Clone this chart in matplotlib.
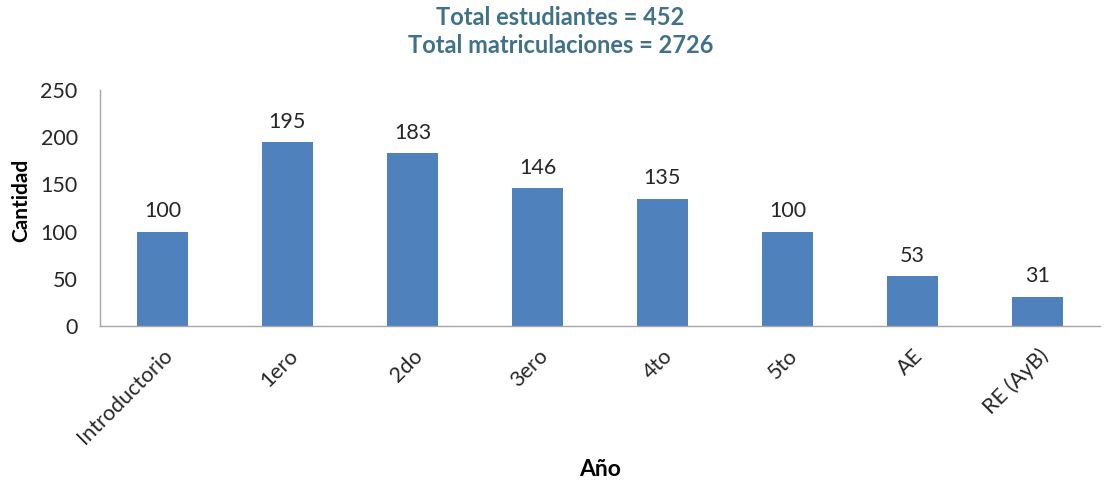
import matplotlib
matplotlib.use("Agg")
import matplotlib.pyplot as plt
import matplotlib.transforms as mtransforms

categories = ["Introductorio", "1ero", "2do", "3ero", "4to", "5to", "AE", "RE (AyB)"]
values = [100, 195, 183, 146, 135, 100, 53, 31]
yticks = [0, 50, 100, 150, 200, 250]

plt.rcParams['font.family'] = ['Lato', 'DejaVu Sans']

fig = plt.figure(figsize=(11.12, 4.9), dpi=100)
ax = fig.add_axes([0.0899, 0.3347, 0.8993, 0.4816])

x = list(range(len(categories)))
bars = ax.bar(x, values, width=0.41, color="#4F81BD", zorder=2)
for xi, v in zip(x, values):
    ax.text(xi, v + 11, str(v), ha="center", va="bottom", fontsize=15.5, color="#262626")

ax.set_xlim(-0.5, len(categories) - 0.5)
ax.set_ylim(0, 250)
ax.set_yticks(yticks)
ax.set_yticklabels([str(t) for t in yticks], fontsize=15.5, color="#262626")
ax.set_xticks(x)
ax.set_xticklabels(categories, rotation=45, ha="right", rotation_mode="anchor",
                   fontsize=15.5, color="#262626")
offset = mtransforms.ScaledTranslation(8 / 100, 0, fig.dpi_scale_trans)
for lbl in ax.get_xticklabels():
    lbl.set_transform(lbl.get_transform() + offset)
ax.tick_params(axis="both", length=0)
ax.tick_params(axis="y", pad=16)
ax.tick_params(axis="x", pad=14)
for s in ["top", "right"]:
    ax.spines[s].set_visible(False)
for s in ["left", "bottom"]:
    ax.spines[s].set_color("#a6a6a6")
    ax.spines[s].set_linewidth(1.0)

fig.text(0.019, 0.592, "Cantidad", rotation=90, ha="center", va="center",
         fontsize=15, fontweight="bold", color="#000000")
fig.text(0.5396, 0.02, "Año", ha="center", va="bottom", fontsize=16.5,
         fontweight="bold", color="#000000")
fig.text(0.504, 0.965, "Total estudiantes = 452", ha="center", va="center",
         fontsize=17, fontweight="bold", color="#3F7189")
fig.text(0.504, 0.908, "Total matriculaciones = 2726", ha="center", va="center",
         fontsize=17, fontweight="bold", color="#3F7189")

fig.savefig("out.png", dpi=100)
